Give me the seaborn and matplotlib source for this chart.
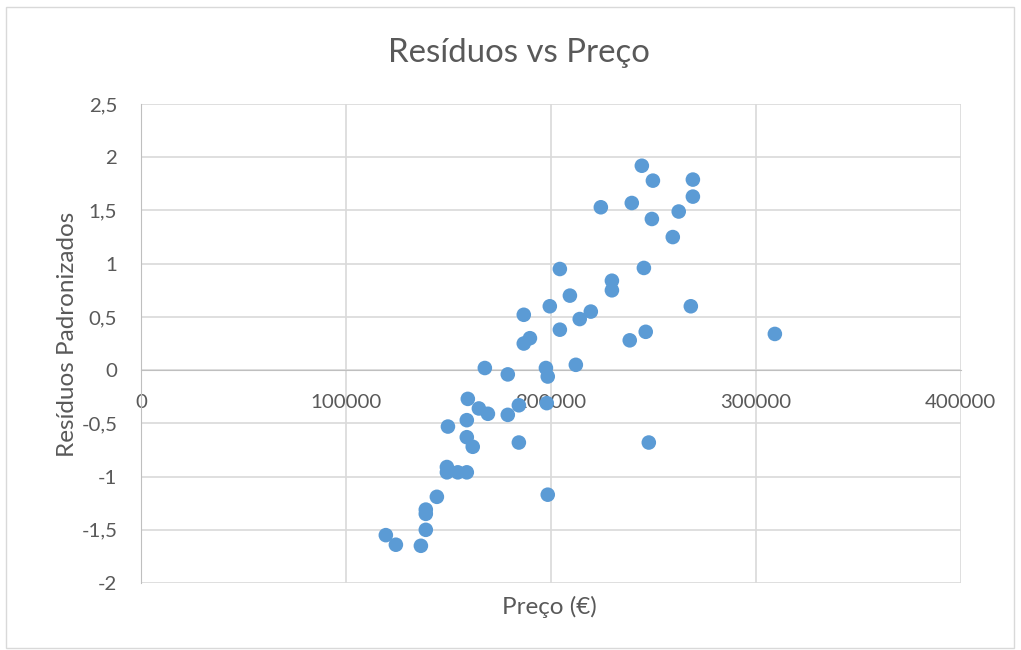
import numpy as np
import pandas as pd
import matplotlib
matplotlib.use('Agg')
import matplotlib.pyplot as plt
import seaborn as sns
from matplotlib.ticker import FuncFormatter, MultipleLocator
from matplotlib.patches import Rectangle

# Dados (preço em €, resíduo padronizado)
preco = [
    244400, 249800, 269300, 269300, 224400, 239500, 249300, 262400, 259500,
    204400, 245400, 229800, 229800, 209300, 199500, 268300, 186800, 214100,
    219500, 204400, 246300, 238500, 189800, 186800, 309300, 167800, 197600,
    198500, 212200, 179000, 159500, 164900, 169300, 159000, 179000, 184400,
    198000, 149800, 159000, 161900, 184400, 247800, 149300, 149300, 154600,
    159000, 144400, 139000, 139000, 139000, 198500, 119500, 124400, 136600,
]
residuos = [
    1.92, 1.78, 1.79, 1.63, 1.53, 1.57, 1.42, 1.49, 1.25,
    0.95, 0.96, 0.84, 0.75, 0.70, 0.60, 0.60, 0.52, 0.48,
    0.55, 0.38, 0.36, 0.28, 0.30, 0.25, 0.34, 0.02, 0.02,
    -0.06, 0.05, -0.04, -0.27, -0.36, -0.41, -0.47, -0.42, -0.33,
    -0.31, -0.53, -0.63, -0.72, -0.68, -0.68, -0.91, -0.96, -0.96,
    -0.96, -1.19, -1.31, -1.35, -1.50, -1.17, -1.55, -1.64, -1.65,
]

df = pd.DataFrame({'preco': preco, 'residuo': residuos})

sns.set_style('white')
plt.rcParams['font.family'] = ['Lato', 'DejaVu Sans']

texto = '#595959'
grelha = '#D9D9D9'

fig = plt.figure(figsize=(10.21, 6.5), dpi=100)
ax = fig.add_axes([0.138, 0.103, 0.803, 0.737])

sns.scatterplot(data=df, x='preco', y='residuo', ax=ax, s=110,
                color='#5B9BD5', edgecolor='none', zorder=3, clip_on=False)

ax.set_xlim(0, 400000)
ax.set_ylim(-2, 2.5)
ax.xaxis.set_major_locator(MultipleLocator(100000))
ax.yaxis.set_major_locator(MultipleLocator(0.5))
ax.yaxis.set_major_formatter(FuncFormatter(lambda v, p: f'{v:g}'.replace('.', ',')))
ax.xaxis.set_major_formatter(FuncFormatter(lambda v, p: f'{int(v)}'))

ax.grid(True, color=grelha, linewidth=1.2, zorder=0)
ax.set_axisbelow(True)

for lado in ['top', 'right']:
    ax.spines[lado].set_visible(False)
ax.spines['bottom'].set_position(('data', 0))
ax.spines['bottom'].set_color('#BFBFBF')
ax.spines['left'].set_color('#BFBFBF')
ax.spines['bottom'].set_zorder(1)

ax.tick_params(axis='both', colors='#BFBFBF', labelcolor=texto, labelsize=14.7,
               length=6, width=1, direction='out')
ax.tick_params(axis='x', pad=11)
ax.tick_params(axis='y', pad=11)

# titulos dos eixos
ax.set_xlabel('Preço (€)', fontsize=17.5, color=texto)
ax.xaxis.label.set_va('baseline')
ax.xaxis.set_label_coords(0.498, -0.065)
ax.set_ylabel('Resíduos Padronizados', fontsize=17.5, color=texto)
ax.yaxis.set_label_coords(-0.077, 0.519)

fig.text(0.508, 0.905, 'Resíduos vs Preço', ha='center', va='baseline',
         fontsize=23.8, color=texto)

fig.patches.append(Rectangle((0.006, 0.003), 0.987, 0.987, transform=fig.transFigure,
                             fill=False, edgecolor='#D9D9D9', linewidth=1))

fig.savefig('out.png', dpi=100)
